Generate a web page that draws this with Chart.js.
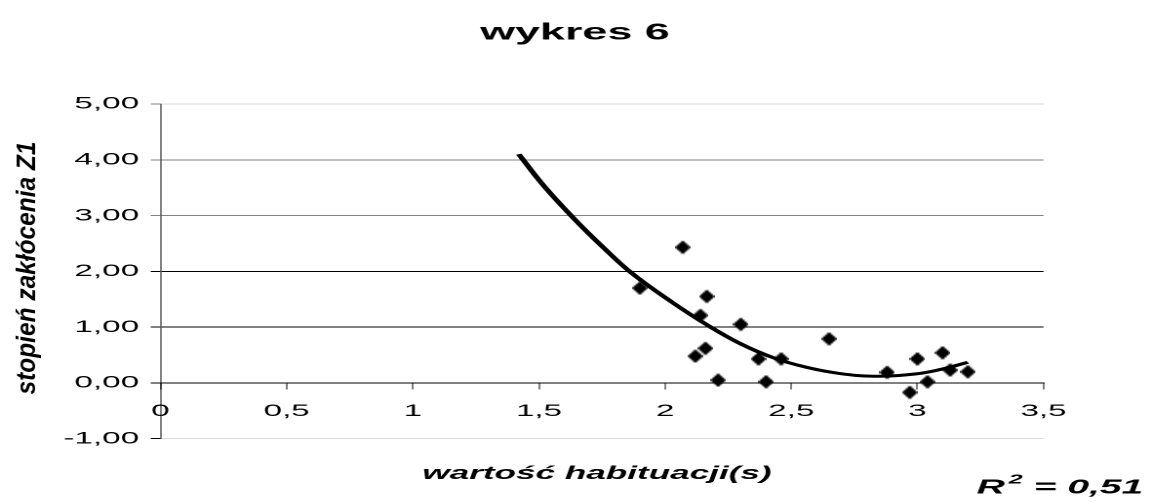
<!DOCTYPE html>
<html>
<head>
<meta charset="utf-8">
<script src="https://cdn.jsdelivr.net/npm/chart.js@4/dist/chart.umd.min.js"></script>
<style>
  html, body { margin: 0; padding: 0; background: #fff; overflow: hidden; }
  /* the original picture is a narrow chart stretched sideways, so draw it narrow and stretch it */
  #wrap { position: absolute; left: 0; top: 0; width: 590px; height: 502px; transform: scaleX(1.95085); transform-origin: 0 0; }
</style>
</head>
<body>
<div id="wrap"><canvas id="chart" width="590" height="502" style="width:590px;height:502px"></canvas></div>
<script>
const chartTitle = 'wykres 6';
const xTitle = 'wartość habituacji(s)';
const yTitle = 'stopień zakłócenia Z1';
const r2Value = '0,51';

const xTicks = [0, 0.5, 1, 1.5, 2, 2.5, 3, 3.5];
const xTickLabels = ['0', '0,5', '1', '1,5', '2', '2,5', '3', '3,5'];
const yTicks = [-1, 0, 1, 2, 3, 4, 5];
const yTickLabels = ['-1,00', '0,00', '1,00', '2,00', '3,00', '4,00', '5,00'];

// measured points
const habX = [1.90, 2.07, 2.165, 2.14, 2.30, 2.65, 2.16, 2.12, 2.37, 2.46, 2.21, 2.40, 2.88, 3.00, 3.10, 3.13, 3.20, 3.04, 2.97];
const zakY = [1.70, 2.43, 1.55, 1.21, 1.05, 0.79, 0.62, 0.48, 0.43, 0.43, 0.05, 0.02, 0.19, 0.43, 0.54, 0.23, 0.20, 0.02, -0.17];

// trend line
const trendX = [1.42, 1.52, 1.64, 1.75, 1.87, 2.03, 2.17, 2.30, 2.43, 2.56, 2.69, 2.83, 2.99, 3.09, 3.20];
const trendY = [4.10, 3.53, 2.94, 2.45, 1.96, 1.44, 1.03, 0.70, 0.45, 0.28, 0.17, 0.12, 0.16, 0.24, 0.37];

const FONT = '"Liberation Sans", Arial, sans-serif';

// diamond marker (narrow, it gets stretched with the rest)
const diamond = document.createElement('canvas');
diamond.width = 8;
diamond.height = 14;
(function () {
    const g = diamond.getContext('2d');
    g.fillStyle = '#000';
    g.beginPath();
    g.moveTo(4, 0); g.lineTo(8, 7); g.lineTo(4, 14); g.lineTo(0, 7);
    g.closePath();
    g.fill();
})();

function gridColor(v) {
    if (v === 5 || v === -1) return '#d9d9d9';
    if (v === 4 || v === 3) return '#808080';
    return '#000';
}

const textPlugin = {
    id: 'texts',
    afterDraw(chart) {
        const ctx = chart.ctx;
        ctx.save();
        ctx.fillStyle = '#000';
        ctx.textBaseline = 'middle';

        ctx.textAlign = 'center';
        ctx.font = 'bold 23px ' + FONT;
        ctx.fillText(chartTitle, 294.7, 33);

        ctx.font = 'italic bold 18px ' + FONT;
        ctx.fillText(xTitle, 306, 474);

        // R^2 label, right end near the edge
        ctx.textAlign = 'left';
        ctx.font = 'italic bold 20px ' + FONT;
        const rest = ' = ' + r2Value;
        const wR = ctx.measureText('R').width;
        const wRest = ctx.measureText(rest).width;
        ctx.font = 'italic bold 13px ' + FONT;
        const w2 = ctx.measureText('2').width;
        let x = 586 - (wR + 2 + w2 + wRest);
        ctx.font = 'italic bold 20px ' + FONT;
        ctx.fillText('R', x, 488);
        x += wR + 2;
        ctx.font = 'italic bold 13px ' + FONT;
        ctx.fillText('2', x, 480);
        x += w2;
        ctx.font = 'italic bold 20px ' + FONT;
        ctx.fillText(rest, x, 488);

        // rotated y title, squeezed
        ctx.save();
        ctx.translate(14, 268);
        ctx.rotate(-Math.PI / 2);
        ctx.textAlign = 'center';
        ctx.font = 'italic bold 20px ' + FONT;
        const wy = ctx.measureText(yTitle).width;
        ctx.scale(253 / wy, 0.7);
        ctx.fillText(yTitle, 0, 0);
        ctx.restore();

        ctx.restore();
    }
};

new Chart(document.getElementById('chart'), {
    type: 'scatter',
    data: {
        datasets: [{
            label: 'trend',
            type: 'line',
            data: trendX.map((x, i) => ({ x: x, y: trendY[i] })),
            borderColor: '#000',
            borderWidth: 3,
            pointRadius: 0,
            tension: 0.4,
            fill: false,
            order: 0
        }, {
            label: 'pomiary',
            data: habX.map((x, i) => ({ x: x, y: zakY[i] })),
            pointStyle: diamond,
            pointRadius: 5,
            backgroundColor: '#000',
            borderColor: '#000',
            order: 1
        }]
    },
    options: {
        responsive: false,
        devicePixelRatio: 2,
        animation: false,
        layout: { padding: { left: 32.27, right: 55.1, top: 104, bottom: 63.3 } },
        plugins: {
            legend: { display: false },
            tooltip: { enabled: false },
            title: { display: false }
        },
        scales: {
            x: {
                type: 'linear',
                position: { y: 0 },
                min: 0,
                max: 3.5,
                afterBuildTicks: s => { s.ticks = xTicks.map(v => ({ value: v })); },
                ticks: {
                    callback: (v, i) => xTickLabels[i],
                    font: { family: FONT, size: 17 },
                    color: '#000',
                    padding: 12,
                    maxRotation: 0,
                    autoSkip: false
                },
                grid: { drawOnChartArea: false, drawTicks: true, tickLength: 6, tickWidth: 0.5, tickColor: '#000' },
                border: { display: true, color: '#000', width: 1 }
            },
            y: {
                type: 'linear',
                position: 'left',
                min: -1,
                max: 5,
                afterBuildTicks: s => { s.ticks = yTicks.map(v => ({ value: v })); },
                afterFit: s => { s.width = 50; },
                ticks: {
                    callback: (v, i) => yTickLabels[i],
                    font: { family: FONT, size: 17 },
                    color: '#000',
                    padding: 6
                },
                grid: {
                    color: c => gridColor(c.tick ? c.tick.value : null),
                    tickColor: c => (c.tick && c.tick.value >= 3 ? '#808080' : '#000'),
                    lineWidth: 1,
                    tickLength: 5
                },
                border: { display: true, color: '#000', width: 0.5 }
            }
        }
    },
    plugins: [textPlugin]
});
</script>
</body>
</html>
